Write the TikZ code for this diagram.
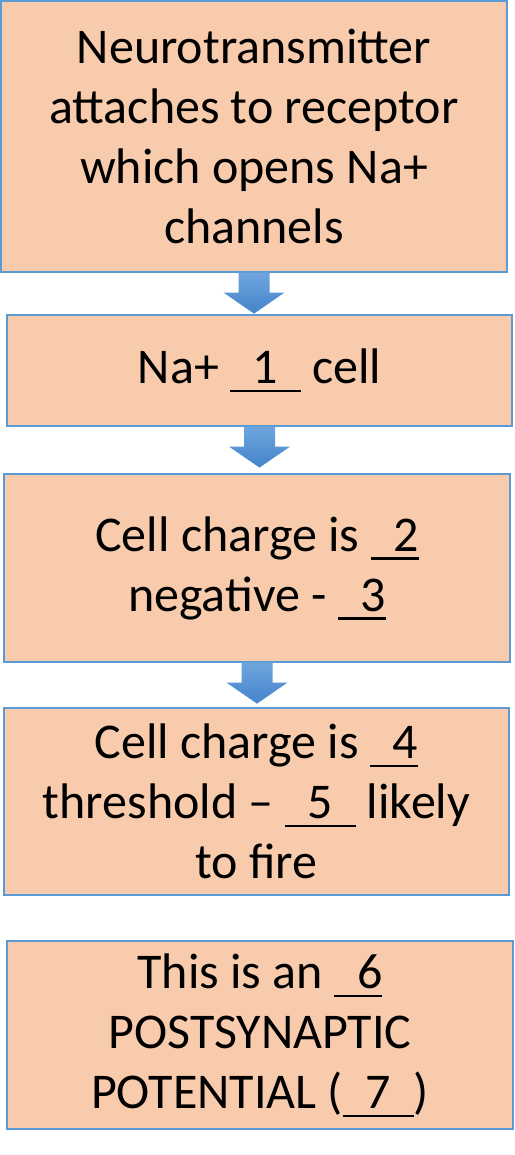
\documentclass[tikz,border=0pt]{standalone}
\usepackage{fontspec}
\setmainfont{Carlito}
\usepackage{tikz}
\usetikzlibrary{calc}
\definecolor{boxfill}{RGB}{248,203,173}
\definecolor{boxline}{RGB}{91,155,213}
\definecolor{arrtop}{RGB}{111,165,221}
\definecolor{arrbot}{RGB}{68,132,203}
\newcommand\fillin[1]{\setbox0=\hbox{#1}\rlap{\rule[-0.17em]{\wd0}{0.042em}}\box0\relax}
\newcommand\flowarrow[2]{\shade[arrow]
  ($(#1.south)+(-15.5,0)$) -- ($(#1.south)+(15.5,0)$) -- ($(#1.south)+(15.5,20)$)
  -- ($(#1.south)+(30.5,20)$) -- ($(#1.south)+(0,41)$) -- ($(#1.south)+(-30.5,20)$)
  -- ($(#1.south)+(-15.5,20)$) -- cycle;}

\begin{document}
\begin{tikzpicture}[x=1pt,y=-1pt,
  box/.style={draw=boxline,line width=1.2pt,fill=boxfill,align=center,inner sep=0pt,
    font=\fontsize{50}{60}\selectfont},
  arrow/.style={top color=arrtop,bottom color=arrbot}]
\useasboundingbox (0,0) rectangle (514,1155);
\node[box,minimum width=506pt,minimum height=271pt] (attach) at (254,136.5)
  {Neurotransmitter\\attaches to receptor\\which opens Na+\\channels};
\node[box,minimum width=505pt,minimum height=111pt] (influx) at (259.5,370.5)
  {Na+ \fillin{\ \ 1\ \ } cell};
\node[box,minimum width=506pt,minimum height=188pt] (charge) at (257,568)
  {Cell charge is \fillin{\ \ 2}\\negative - \fillin{\ \ 3}};
\node[box,minimum width=505pt,minimum height=187pt] (thresh) at (256.5,801.5)
  {Cell charge is \fillin{\ \ 4}\\threshold -- \fillin{\ \ 5\ \ } likely\\to fire};
\node[box,minimum width=506pt,minimum height=188pt] (epsp) at (260,1035)
  {This is an \fillin{\ \ 6}\\POSTSYNAPTIC\\POTENTIAL (\fillin{\ \ 7\ \ })};
\flowarrow{attach}{influx}
\flowarrow{influx}{charge}
\flowarrow{charge}{thresh}
\end{tikzpicture}
\end{document}
